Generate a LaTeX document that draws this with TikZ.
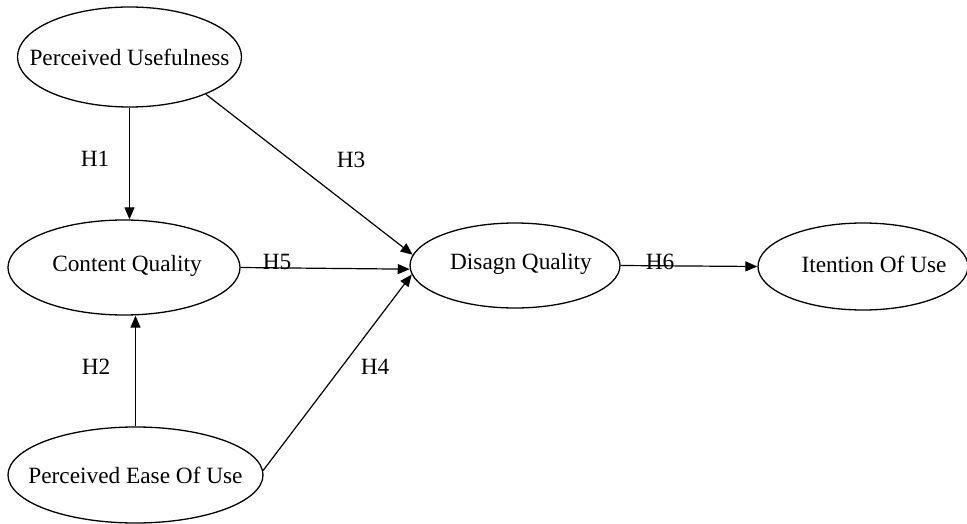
\documentclass[tikz,border=0pt]{standalone}
\usepackage{fontspec}
\setmainfont{Liberation Serif}
\usetikzlibrary{shapes.geometric,arrows.meta}
\begin{document}
\begin{tikzpicture}[x=1pt,y=-1pt,font=\fontsize{23.3}{28}\selectfont,
    construct/.style={draw,ellipse,line width=1.3pt,inner sep=0pt},
    hyp/.style={-{Triangle[length=12pt,width=10pt]},line width=1.2pt}]
      \useasboundingbox[fill=white] (0,0) rectangle (967,524);
      \node[construct,minimum width=224pt,minimum height=100pt,label=center:{Perceived Usefulness}] (pu) at (129.5,57) {};
      \node[construct,minimum width=232pt,minimum height=95pt,label={[xshift=3pt,yshift=2pt]center:Content Quality}] (cq) at (124,267.5) {};
      \node[construct,minimum width=255pt,minimum height=96pt,label=center:{Perceived Ease Of Use}] (peou) at (135.5,475) {};
      \node[construct,minimum width=210pt,minimum height=85pt,label={[xshift=6pt,yshift=2pt]center:Disagn Quality}] (dq) at (515,265.5) {};
      \node[construct,minimum width=210pt,minimum height=87pt,label={[xshift=11pt,yshift=2pt]center:Itention Of Use}] (iou) at (863,266.5) {};
      \draw[hyp] (pu.south) -- (pu.south |- cq.north);
      \draw[hyp] (peou.north) -- (peou.north |- cq.south);
      \draw[hyp] (pu.-26) -- (dq.174);
      \draw[hyp] (cq.east) -- (dq.182);
      \draw[hyp] (peou.2) -- (dq.185);
      \draw[hyp] (dq.east) -- (iou.west);
      \node (h1) at (95,159) {H1};
      \node (h2) at (96,367) {H2};
      \node (h3) at (351,160) {H3};
      \node (h4) at (375,367) {H4};
      \node (h5) at (277,262) {H5};
      \node (h6) at (660,262) {H6};
    \end{tikzpicture}
\end{document}
